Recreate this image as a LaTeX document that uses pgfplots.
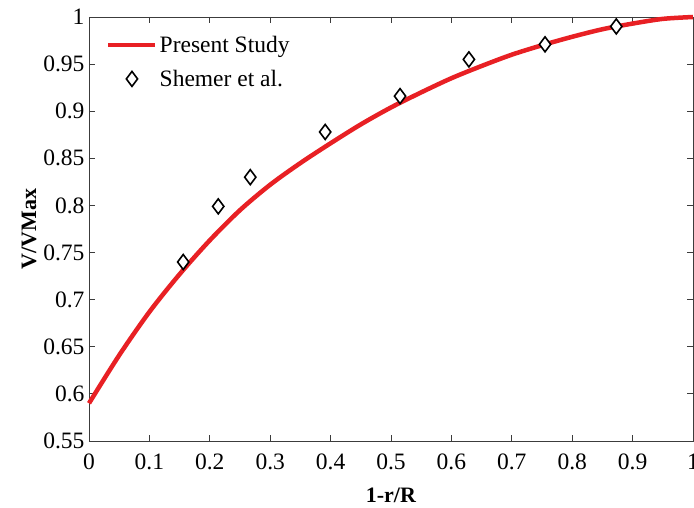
\documentclass[border=0pt]{standalone}
\usepackage{fontspec}
\setmainfont{Liberation Serif}
\usepackage{pgfplots}
\pgfplotsset{compat=1.18}
\definecolor{axgray}{RGB}{60,60,60}
\definecolor{curvered}{RGB}{232,32,36}
\begin{document}
\begin{tikzpicture}
\begin{axis}[
  scale only axis,
  width=604pt, height=424pt,
  xmin=0, xmax=1, ymin=0.55, ymax=1,
  xtick={0,0.1,...,1.0},
  xticklabels={0,0.1,0.2,0.3,0.4,0.5,0.6,0.7,0.8,0.9,1},
  ytick={0.55,0.6,0.65,0.7,0.75,0.8,0.85,0.9,0.95,1},
  yticklabels={0.55,0.6,0.65,0.7,0.75,0.8,0.85,0.9,0.95,1},
  tick align=inside,
  major tick length=6pt,
  axis line style={axgray, line width=0.8pt},
  every tick/.style={axgray, line width=0.8pt},
  tick label style={font=\fontsize{23.5}{28}\selectfont, black},
  /pgf/number format/assume math mode=true,
  xticklabel style={yshift=-9pt},
  yticklabel style={xshift=-1pt},
  xlabel={\textbf{1-r/R}},
  ylabel={\textbf{V/VMax}},
  label style={font=\fontsize{22}{26}\selectfont},
  xlabel style={yshift=-12pt},
  ylabel style={yshift=0pt},
  legend style={draw=none, fill=none, at={(rel axis cs:0,1)}, anchor=north west,
    xshift=14pt, yshift=-15pt, font=\fontsize{23.5}{28}\selectfont,
    row sep=12pt, legend cell align=left},
  clip=false,
]
\coordinate (ll) at (rel axis cs:0,0);
\coordinate (ur) at (rel axis cs:1,1);
\addplot[curvered, line width=4.5pt, smooth,
  legend image code/.code={\draw[curvered, line width=4.5pt] (0pt,0pt) -- (47pt,0pt);}]
  coordinates {
  (0.00,0.590) (0.05,0.641) (0.10,0.687) (0.15,0.727) (0.20,0.763)
  (0.25,0.795) (0.30,0.822) (0.35,0.845) (0.40,0.866) (0.45,0.886)
  (0.50,0.904) (0.55,0.920) (0.60,0.935) (0.65,0.948) (0.70,0.960)
  (0.75,0.970) (0.80,0.979) (0.85,0.987) (0.90,0.993) (0.95,0.998)
  (1.00,1.000)};
\addlegendentry{Present Study}
\addplot[only marks, mark=diamond*, mark size=7.5pt,
  mark options={draw=black, fill=white, line width=1.6pt},
  legend image code/.code={\draw[mark=diamond*, mark size=7.5pt, mark options={draw=black, fill=white, line width=1.6pt}] plot coordinates {(23.5pt,0pt)};}]
  coordinates {
  (0.156,0.740) (0.214,0.799) (0.267,0.830) (0.391,0.878)
  (0.515,0.916) (0.629,0.955) (0.755,0.971) (0.873,0.990)};
\addlegendentry{Shemer et al.}
\end{axis}
\pgfresetboundingbox
\path ([shift={(-89pt,-67pt)}]ll) rectangle ([shift={(1pt,17pt)}]ur);
\end{tikzpicture}
\end{document}
